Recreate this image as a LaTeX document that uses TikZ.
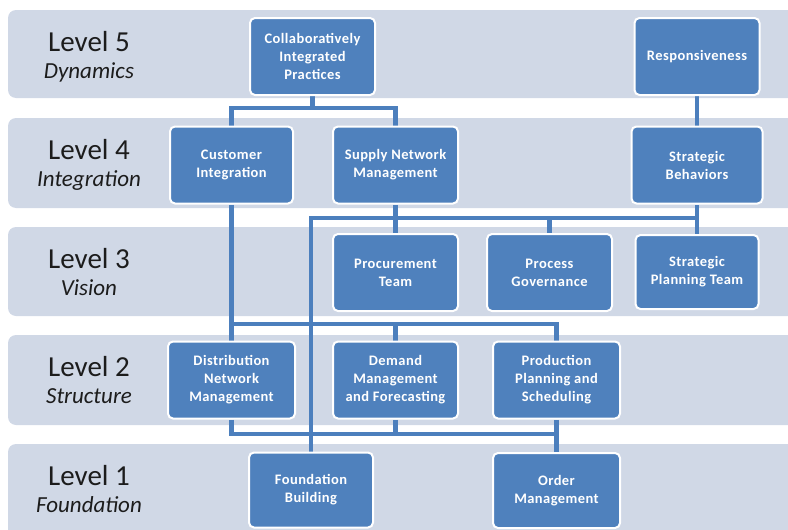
\documentclass[tikz,border=0pt]{standalone}
\usepackage{fontspec}
\setmainfont{Carlito}
\newfontfamily\boxfont[LetterSpace=3]{Carlito}
\definecolor{bandgray}{RGB}{208,216,230}
\definecolor{boxblue}{RGB}{79,129,189}
\definecolor{linkblue}{RGB}{76,127,189}
\definecolor{ink}{RGB}{28,28,28}
\pgfdeclarelayer{back}
\pgfdeclarelayer{wires}
\pgfsetlayers{back,wires,main}

\begin{document}
\begin{tikzpicture}[x=1pt,y=-1pt,
    band/.style={fill=bandgray,rounded corners=8pt},
    title/.style={text=ink,anchor=base,font=\fontsize{29}{32}\selectfont},
    sub/.style={text=ink,anchor=base,font=\fontsize{23}{26}\selectfont\itshape},
    block/.style={draw=white,line width=2pt,fill=boxblue,rounded corners=5pt,
      text=white,align=center,inner sep=0pt,minimum width=125pt,minimum height=77pt,
      font=\boxfont\bfseries\fontsize{14.5}{18}\selectfont},
    link/.style={draw=linkblue,line width=4.5pt}]
      \useasboundingbox (0,0) rectangle (788,530);
      \begin{pgfonlayer}{back}
        \clip (0,0) rectangle (788,530);
        \path[band] (8,10) rectangle (820,98);
        \path[band] (8,118) rectangle (820,208);
        \path[band] (8,227) rectangle (820,316);
        \path[band] (8,335) rectangle (820,425);
        \path[band] (8,444) rectangle (820,560);
      \end{pgfonlayer}
      \draw
        (89,51.5) node[title] (lev5){Level 5}
        (89,78.5) node[sub] (sub5){Dynamics}
        (89,159.5) node[title] (lev4){Level 4}
        (89,186.5) node[sub] (sub4){Integration}
        (89,268.5) node[title] (lev3){Level 3}
        (89,295.5) node[sub] (sub3){Vision}
        (89,376.5) node[title] (lev2){Level 2}
        (89,403.5) node[sub] (sub2){Structure}
        (89,485.5) node[title] (lev1){Level 1}
        (89,512.5) node[sub] (sub1){Foundation};
      \draw
        (312.5,56.5) node[block] (collab){Collaboratively\\Integrated\\Practices}
        (697,56.5) node[block] (resp){Responsiveness}
        (231.5,165) node[block,minimum width=123pt] (cust){Customer\\Integration}
        (395.5,165) node[block] (supply){Supply Network\\Management}
        (697,165) node[block,minimum width=131pt] (strbeh){Strategic\\Behaviors}
        (395.5,272.5) node[block] (procure){Procurement\\Team}
        (549.5,272.5) node[block] (process){Process\\Governance}
        (697,272) node[block,minimum width=123pt,minimum height=74pt] (strplan){Strategic\\Planning Team}
        (231.5,380) node[block,minimum width=127pt] (distrib){Distribution\\Network\\Management}
        (395.5,380) node[block] (demand){Demand\\Management\\and Forecasting}
        (556.5,380) node[block,minimum width=127pt] (product){Production\\Planning and\\Scheduling}
        (311,490) node[block,minimum width=124pt,minimum height=75pt] (found){Foundation\\Building}
        (556.5,490.5) node[block,minimum width=127pt,minimum height=75pt] (order){Order\\Management};
      \coordinate (r5) at (0,108);
      \coordinate (r4) at (0,218);
      \coordinate (r3) at (0,324);
      \coordinate (r2) at (0,434);
      \begin{pgfonlayer}{wires}
        \draw[link] (collab.south) -- (collab.south |- r5);
        \draw[link] (cust.north) |- (r5 -| supply.north) -- (supply.north);
        \draw[link] (resp.south) -- (strbeh.north);
        \draw[link] (supply.south) -- (supply.south |- r4);
        \draw[link] (found.north) |- (r4 -| strbeh.south) -- (strbeh.south);
        \draw[link] (r4 -| procure.north) -- (procure.north);
        \draw[link] (r4 -| process.north) -- (process.north);
        \draw[link] (r4 -| strplan.north) -- (strplan.north);
        \draw[link] (cust.south) -- (distrib.north);
        \draw[link] (cust.south |- r3) -| (product.north);
        \draw[link] (r3 -| demand.north) -- (demand.north);
        \draw[link] (distrib.south) |- (r2 -| product.south);
        \draw[link] (demand.south) -- (demand.south |- r2);
        \draw[link] (product.south) -- (order.north);
      \end{pgfonlayer}
    \end{tikzpicture}
\end{document}
